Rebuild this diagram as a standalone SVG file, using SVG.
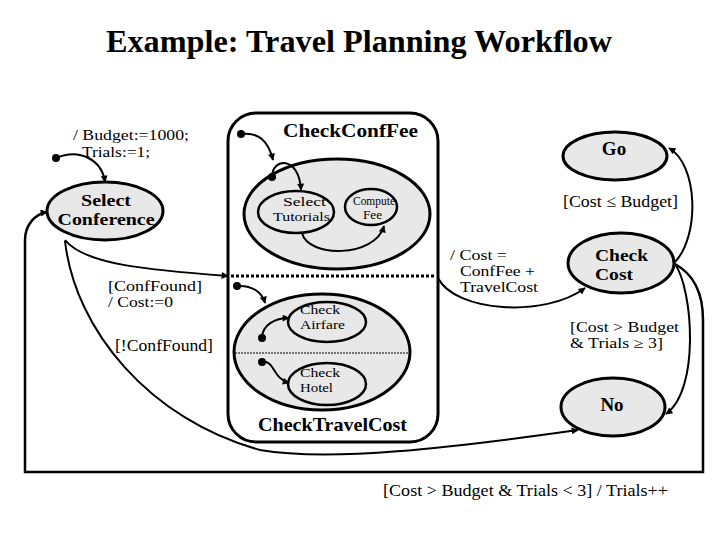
<svg xmlns="http://www.w3.org/2000/svg" width="720" height="540" viewBox="0 0 720 540">
<style>
.st{fill:#e8e8e8;stroke:#000;stroke-width:3}
.in{fill:#e8e8e8;stroke:#000;stroke-width:2.5}
.conn{fill:none;stroke:#000;stroke-width:2;marker-end:url(#ah)}
.t{font-family:"Liberation Serif","Times New Roman",serif;font-size:17px;fill:#000}
.m{font-size:14px}
.b{font-weight:bold;font-size:19px}
.b2{font-weight:bold;font-size:17px}
.s{font-size:13px}
</style>
<defs>
<marker id="ah" viewBox="0 0 10 10" refX="9" refY="5" markerWidth="9" markerHeight="7" markerUnits="userSpaceOnUse" orient="auto"><path d="M0,0 L10,5 L0,10 z"/></marker>
</defs>
<rect width="720" height="540" fill="#fff"/>
<text class="t" x="106" y="52" style="font-size:32px;font-weight:bold" textLength="506" lengthAdjust="spacingAndGlyphs">Example: Travel Planning Workflow</text>

<g id="composite">
<rect x="228" y="113" width="210" height="329" rx="28" fill="#fff" stroke="#000" stroke-width="3"/>
<line x1="231" y1="276" x2="436" y2="276" stroke="#000" stroke-width="3" stroke-dasharray="3 2"/>
<text class="t b" x="283" y="137" textLength="135" lengthAdjust="spacingAndGlyphs">CheckConfFee</text>
<text class="t b" x="258" y="431" textLength="149" lengthAdjust="spacingAndGlyphs">CheckTravelCost</text>
</g>

<g id="confFeeRegion">
<ellipse class="st" cx="337" cy="214" rx="93" ry="55"/>
</g>
<g id="selectTutorials">
<ellipse class="in" cx="296" cy="212" rx="38" ry="21"/>
<text class="t s"><tspan x="283" y="206" textLength="43" lengthAdjust="spacingAndGlyphs">Select</tspan><tspan x="273" y="221" textLength="57" lengthAdjust="spacingAndGlyphs">Tutorials</tspan></text>
</g>
<g id="computeFee">
<ellipse class="in" cx="371" cy="207" rx="26" ry="18"/>
<text class="t" style="font-size:12px"><tspan x="353" y="205" textLength="42" lengthAdjust="spacingAndGlyphs">Compute</tspan><tspan x="363" y="219" textLength="19" lengthAdjust="spacingAndGlyphs">Fee</tspan></text>
</g>

<g id="travelCostRegion">
<ellipse class="st" cx="322" cy="352" rx="88" ry="58"/>
<line x1="235" y1="353" x2="409" y2="353" stroke="#000" stroke-width="1.2" stroke-dasharray="2 1"/>
</g>
<g id="checkAirfare">
<ellipse class="in" cx="327" cy="322" rx="39" ry="20"/>
<text class="t s"><tspan x="300" y="314" textLength="40" lengthAdjust="spacingAndGlyphs">Check</tspan><tspan x="300" y="329" textLength="45" lengthAdjust="spacingAndGlyphs">Airfare</tspan></text>
</g>
<g id="checkHotel">
<ellipse class="in" cx="327" cy="384" rx="39" ry="21"/>
<text class="t s"><tspan x="300" y="377" textLength="40" lengthAdjust="spacingAndGlyphs">Check</tspan><tspan x="300" y="392" textLength="33" lengthAdjust="spacingAndGlyphs">Hotel</tspan></text>
</g>

<g id="selectConference">
<ellipse class="st" cx="105" cy="211" rx="58" ry="29"/>
<text class="t b2" text-anchor="middle"><tspan x="106" y="206" textLength="50" lengthAdjust="spacingAndGlyphs">Select</tspan><tspan x="106" y="225" textLength="97" lengthAdjust="spacingAndGlyphs">Conference</tspan></text>
</g>
<g id="go">
<ellipse class="st" cx="615" cy="156" rx="52" ry="24"/>
<text class="t b" x="614" y="155" text-anchor="middle">Go</text>
</g>
<g id="checkCost">
<ellipse class="st" cx="621" cy="263" rx="53" ry="30"/>
<text class="t b2"><tspan x="595" y="261" textLength="53" lengthAdjust="spacingAndGlyphs">Check</tspan><tspan x="595" y="280" textLength="38" lengthAdjust="spacingAndGlyphs">Cost</tspan></text>
</g>
<g id="no">
<ellipse class="st" cx="613" cy="407" rx="52" ry="29"/>
<text class="t b" x="612" y="411" text-anchor="middle">No</text>
</g>

<g id="initials">
<circle cx="56" cy="158" r="4"/>
<circle cx="241" cy="134" r="4"/>
<circle cx="272" cy="177" r="4"/>
<circle cx="237" cy="286" r="4"/>
<circle cx="262" cy="338" r="4"/>
<circle cx="262" cy="362" r="4"/>
</g>

<g id="connectors">
<path class="conn" d="M56,158 C80,148 102,160 105,182"/>
<path class="conn" d="M241,134 C258,132 268,140 273,160"/>
<path class="conn" d="M272,177 C272,158 299,155 301,190"/>
<path class="conn" d="M302,233 C308,258 375,258 384,226"/>
<path class="conn" d="M237,286 C252,285 262,292 265,303"/>
<path class="conn" d="M262,338 C262,325 275,318 289,318"/>
<path class="conn" d="M262,362 C275,360 272,378 289,383"/>
<path class="conn" d="M65,240 C85,265 150,270 228,276"/>
<path class="conn" d="M65,241 C75,330 150,420 260,450 C330,462 450,448 578,430"/>
<path class="conn" d="M438,278 C455,312 545,318 585,288"/>
<path class="conn" d="M675,262 C700,235 698,165 669,148"/>
<path class="conn" d="M675,264 C693,290 700,390 666,414"/>
<path class="conn" style="stroke-width:2.5" d="M675,264 C695,275 703,295 703,320 L703,472 L25,472 L25,240 C25,225 35,214 47,212"/>
</g>

<g id="labels">
<text class="t" style="font-size:15px"><tspan x="73" y="140" textLength="116" lengthAdjust="spacingAndGlyphs">/ Budget:=1000;</tspan><tspan x="82" y="157" textLength="68" lengthAdjust="spacingAndGlyphs">Trials:=1;</tspan></text>
<text class="t m"><tspan x="108" y="291" textLength="94" lengthAdjust="spacingAndGlyphs">[ConfFound]</tspan><tspan x="108" y="307" textLength="65" lengthAdjust="spacingAndGlyphs">/ Cost:=0</tspan></text>
<text class="t" x="115" y="351" textLength="98" lengthAdjust="spacingAndGlyphs">[!ConfFound]</text>
<text class="t m"><tspan x="450" y="260" textLength="57" lengthAdjust="spacingAndGlyphs">/ Cost =</tspan><tspan x="460" y="276" textLength="75" lengthAdjust="spacingAndGlyphs">ConfFee +</tspan><tspan x="460" y="292" textLength="78" lengthAdjust="spacingAndGlyphs">TravelCost</tspan></text>
<text class="t" x="563" y="207" textLength="115" lengthAdjust="spacingAndGlyphs">[Cost ≤ Budget]</text>
<text class="t m"><tspan x="570" y="332" textLength="109" lengthAdjust="spacingAndGlyphs">[Cost &gt; Budget</tspan><tspan x="570" y="348" textLength="93" lengthAdjust="spacingAndGlyphs">&amp; Trials ≥ 3]</tspan></text>
<text class="t" x="383" y="496" textLength="285" lengthAdjust="spacingAndGlyphs">[Cost &gt; Budget &amp; Trials &lt; 3] / Trials++</text>
</g>
</svg>
